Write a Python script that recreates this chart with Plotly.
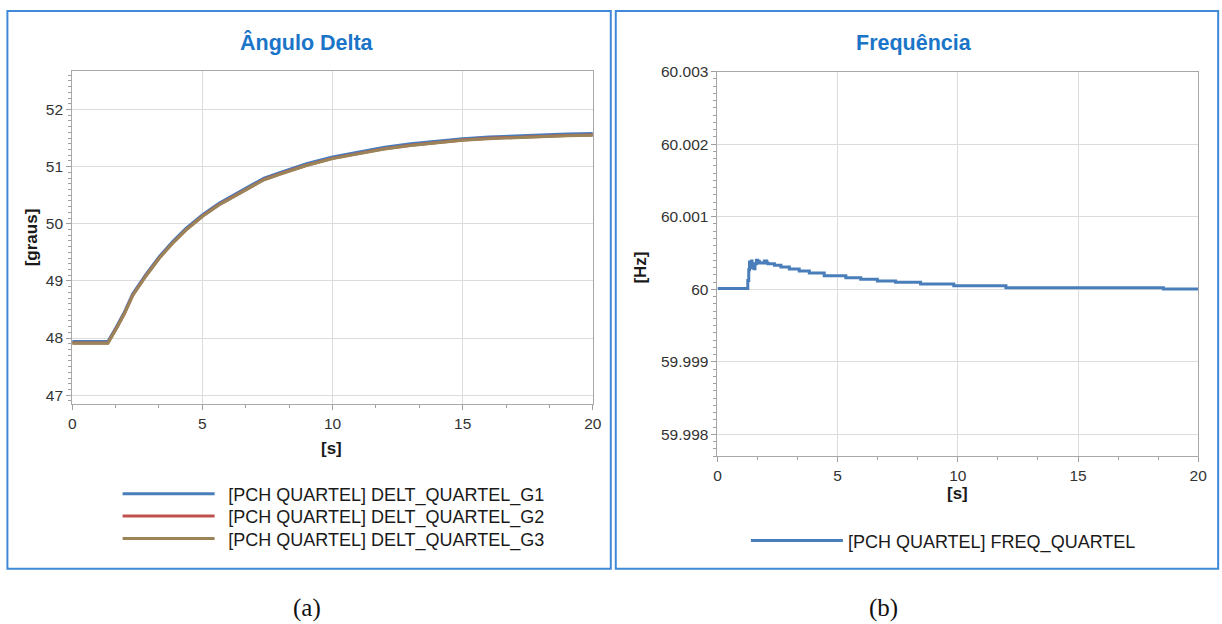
import plotly.graph_objects as go

W, H = 1222, 624

# ---------------- data ----------------
delta_t = [0, 1.37, 1.69, 2.0, 2.32, 2.84, 3.35, 3.86, 4.37, 5.01, 5.64, 6.28, 6.92, 7.37,
           8.0, 9.0, 10, 11, 12, 13, 14, 15, 16, 17, 18, 19, 20]
delta_g1 = [47.94, 47.94, 48.19, 48.45, 48.77, 49.12, 49.43, 49.69, 49.92, 50.16, 50.36, 50.52,
            50.68, 50.80, 50.90, 51.05, 51.17, 51.26, 51.34, 51.40, 51.45, 51.49, 51.52, 51.54,
            51.56, 51.57, 51.58]
delta_g2 = [47.915, 47.915, 48.165, 48.425, 48.745, 49.095, 49.405, 49.665, 49.895, 50.135,
            50.335, 50.495, 50.655, 50.775, 50.875, 51.025, 51.145, 51.235, 51.315, 51.375,
            51.425, 51.465, 51.495, 51.515, 51.535, 51.545, 51.555]
delta_g3 = [47.91, 47.91, 48.16, 48.42, 48.74, 49.09, 49.40, 49.66, 49.89, 50.13, 50.33, 50.49,
            50.65, 50.77, 50.87, 51.02, 51.14, 51.23, 51.31, 51.37, 51.42, 51.46, 51.49, 51.51,
            51.53, 51.54, 51.55]

freq_t = [0, 1.26, 1.30, 1.33, 1.36, 1.41, 1.44, 1.48, 1.52, 1.56, 1.62, 1.67, 1.74, 1.81, 1.88,
          1.95, 2.05, 2.10, 2.16, 2.37, 2.64, 2.99, 3.40, 3.82, 4.44, 5.34, 5.96, 6.65, 7.41,
          8.45, 9.83, 12.0, 18.55, 20.0]
freq_v = [60.00001, 60.00012, 60.00027, 60.000376, 60.000307, 60.00039, 60.000298, 60.000353,
          60.000284, 60.000353, 60.000399, 60.000385, 60.000362, 60.000367, 60.000362, 60.00039,
          60.000362, 60.000353, 60.000353, 60.00033, 60.000307, 60.00028, 60.000252, 60.000225,
          60.000188, 60.00016, 60.000138, 60.000115, 60.000096, 60.000073, 60.00005, 60.000022,
          60.000004, 60.000004]

series_names = ["[PCH QUARTEL] DELT_QUARTEL_G1", "[PCH QUARTEL] DELT_QUARTEL_G2",
                "[PCH QUARTEL] DELT_QUARTEL_G3"]
freq_name = "[PCH QUARTEL] FREQ_QUARTEL"

x_ticks = [0, 5, 10, 15, 20]
delta_ticks = [47, 48, 49, 50, 51, 52]
freq_tickvals = [59.998, 59.999, 60.0, 60.001, 60.002, 60.003]
freq_ticktext = ["59.998", "59.999", "60", "60.001", "60.002", "60.003"]

# ---------------- style ----------------
C_BLUE = "#4a7ebb"
C_RED = "#c0504d"
C_BROWN = "#9c8459"
TITLE_C = "#1a75c9"
BORDER_C = "#3f89d8"
FONT = "Liberation Sans, Arial, sans-serif"
PAD = "\u00a0\u2009"


def px(x):
    return ((x - 2.6) / 0.992) / W


def py(y):
    return 1 - ((y - 6.1) / 0.9895) / H


fig = go.Figure()
legend_ids = ["legend", "legend3", "legend4"]
for name, ys, col, lg in zip(series_names, [delta_g1, delta_g2, delta_g3],
                             [C_BLUE, C_RED, C_BROWN], legend_ids):
    fig.add_trace(go.Scatter(x=delta_t, y=ys, mode="lines", name=PAD + name,
                             line=dict(color=col, width=3), xaxis="x", yaxis="y",
                             legend=lg))
fig.add_trace(go.Scatter(x=freq_t, y=freq_v, mode="lines", name=freq_name,
                         line=dict(color=C_BLUE, width=3, shape="hv"), xaxis="x2", yaxis="y2",
                         legend="legend2"))

axis_common = dict(showgrid=True, gridcolor="#dcdcdc", gridwidth=1, showline=True,
                   linecolor="#a8a8a8", linewidth=1, mirror=True, zeroline=False,
                   ticks="outside", ticklen=5, tickcolor="#a0a0a0",
                   tickfont=dict(family=FONT, size=15.5, color="#333333"))
minor_x = dict(dtick=5 / 3, tick0=0, ticks="outside", ticklen=3, tickcolor="#a0a0a0",
               showgrid=False)


def leg(x, y):
    return dict(x=px(x), y=py(y), xanchor="left", yanchor="middle", itemwidth=92,
                font=dict(family=FONT, size=18, color="#1a1a1a"),
                bgcolor="rgba(0,0,0,0)")


fig.update_layout(
    width=W, height=H, margin=dict(l=0, r=0, t=0, b=0),
    paper_bgcolor="white", plot_bgcolor="white", hovermode=False,
    xaxis=dict(domain=[px(71), px(593)], range=[0, 20], tickvals=x_ticks, anchor="y",
               minor=minor_x, **axis_common),
    yaxis=dict(domain=[py(403), py(68)], range=[46.84, 52.68], tickvals=delta_ticks, anchor="x",
               minor=dict(dtick=0.1, tick0=0, ticks="outside", ticklen=3, tickcolor="#a0a0a0",
                          showgrid=False), **axis_common),
    xaxis2=dict(domain=[px(718), px(1200)], range=[0, 20], tickvals=x_ticks, anchor="y2",
                minor=minor_x, **axis_common),
    yaxis2=dict(domain=[py(455), py(69)], range=[59.9977, 60.003], tickvals=freq_tickvals,
                ticktext=freq_ticktext, anchor="x2",
                minor=dict(dtick=0.0001, tick0=60, ticks="outside", ticklen=3,
                           tickcolor="#a0a0a0", showgrid=False), **axis_common),
    legend=leg(116.5, 493),
    legend3=leg(116.5, 515.5),
    legend4=leg(116.5, 538),
    legend2=leg(746.5, 540),
    showlegend=True,
)

# panel borders
for x0, x1 in [(6, 611), (616, 1220)]:
    fig.add_shape(type="rect", xref="paper", yref="paper", x0=px(x0), x1=px(x1),
                  y0=py(568), y1=py(8), line=dict(color=BORDER_C, width=2),
                  fillcolor="rgba(0,0,0,0)", layer="below")

annots = [
    dict(text="<b>Ângulo Delta</b>", x=px(306), y=py(40), size=21.5, color=TITLE_C, angle=0),
    dict(text="<b>Frequência</b>", x=px(915), y=py(40), size=21.5, color=TITLE_C, angle=0),
    dict(text="<b>[s]</b>", x=px(331), y=py(447), size=17, color="#1a1a1a", angle=0),
    dict(text="<b>[s]</b>", x=px(959), y=py(493), size=17, color="#1a1a1a", angle=0),
    dict(text="<b>[graus]</b>", x=px(31), y=py(235), size=17, color="#1a1a1a", angle=-90),
    dict(text="<b>[Hz]</b>", x=px(641), y=py(266), size=17, color="#1a1a1a", angle=-90),
]
for a in annots:
    fig.add_annotation(text=a["text"], x=a["x"], y=a["y"], xref="paper", yref="paper",
                       showarrow=False, textangle=a["angle"], xanchor="center", yanchor="middle",
                       font=dict(family=FONT, size=a["size"], color=a["color"]))

for txt, x in [("(a)", 306), ("(b)", 884)]:
    fig.add_annotation(text=txt, x=px(x), y=py(607), xref="paper", yref="paper",
                       showarrow=False, xanchor="center", yanchor="middle",
                       font=dict(family="Liberation Serif, Times New Roman, serif", size=25,
                                 color="#111111"))

post_js = ("document.body.style.margin='0px';document.body.style.padding='0px';"
           "document.body.style.overflow='hidden';"
           "document.documentElement.style.overflow='hidden';")
fig.write_html("out.html", post_script=post_js, config={"displayModeBar": False})
